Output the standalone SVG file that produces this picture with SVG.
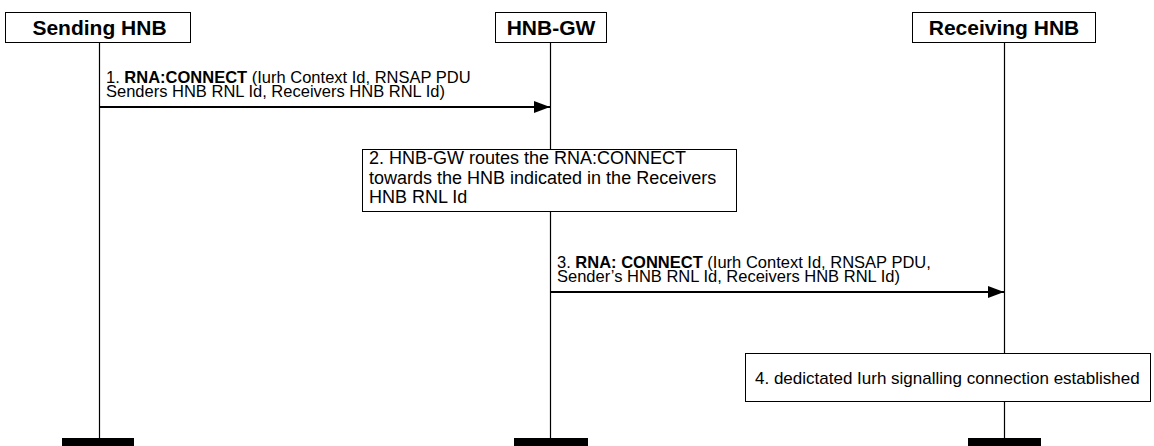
<svg xmlns="http://www.w3.org/2000/svg" width="1154" height="446" viewBox="0 0 1154 446">
<style>
.hdr{fill:#fff;stroke:#000;stroke-width:1}
.ht{font-family:"Liberation Sans",Arial,sans-serif;font-size:21px;font-weight:bold;text-anchor:middle}
.t{font-family:"Liberation Sans",Arial,sans-serif;font-size:16.5px}
.t4{font-family:"Liberation Sans",Arial,sans-serif;font-size:17px}
.t2{font-family:"Liberation Sans",Arial,sans-serif;font-size:18px}
.b{font-weight:bold}
.life{stroke:#000;stroke-width:1.2}
.msg{stroke:#000;stroke-width:1.8}
.note{fill:#fff;stroke:#000;stroke-width:1}
</style>
<defs>
<marker id="ah" markerWidth="16" markerHeight="12" refX="16" refY="6" orient="auto" markerUnits="userSpaceOnUse">
<path d="M0,0 L16,6 L0,12 Z" fill="#000"/>
</marker>
</defs>
<g id="lifelines">
<line class="life" x1="99.5" y1="42" x2="99.5" y2="440"/>
<line class="life" x1="550.5" y1="43" x2="550.5" y2="440"/>
<line class="life" x1="1004.5" y1="42" x2="1004.5" y2="440"/>
</g>
<g id="sending-hnb">
<rect class="hdr" x="5.5" y="12.5" width="185" height="30"/>
<text class="ht" x="99.5" y="35">Sending HNB</text>
<rect x="62" y="438" width="72" height="8" fill="#000"/>
</g>
<g id="hnb-gw">
<rect class="hdr" x="495.5" y="12.5" width="111" height="30"/>
<text class="ht" x="551" y="35">HNB-GW</text>
<rect x="514" y="438" width="74" height="8" fill="#000"/>
</g>
<g id="receiving-hnb">
<rect class="hdr" x="912.5" y="12.5" width="183" height="30"/>
<text class="ht" x="1004" y="35">Receiving HNB</text>
<rect x="968" y="438" width="73" height="8" fill="#000"/>
</g>
<g id="connectors">
<line class="msg" x1="100" y1="107" x2="550" y2="107" marker-end="url(#ah)"/>
<text class="t" x="106" y="83">1. <tspan class="b">RNA:CONNECT</tspan> (Iurh Context Id, RNSAP PDU</text>
<text class="t" x="106" y="97">Senders HNB RNL Id, Receivers HNB RNL Id)</text>
<line class="msg" x1="551" y1="292" x2="1004" y2="292" marker-end="url(#ah)"/>
<text class="t" x="557" y="268">3. <tspan class="b">RNA: CONNECT</tspan> (Iurh Context Id, RNSAP PDU,</text>
<text class="t" x="557" y="282">Sender’s HNB RNL Id, Receivers HNB RNL Id)</text>
</g>
<g id="step2">
<rect class="note" x="362.5" y="149.5" width="374" height="62"/>
<text class="t2" x="369" y="164">2. HNB-GW routes the RNA:CONNECT</text>
<text class="t2" x="369" y="184">towards the HNB indicated in the Receivers</text>
<text class="t2" x="369" y="203">HNB RNL Id</text>
</g>
<g id="step4">
<rect class="note" x="745.5" y="353.5" width="405" height="48"/>
<text class="t4" x="755" y="384">4. dedictated Iurh signalling connection established</text>
</g>
</svg>
